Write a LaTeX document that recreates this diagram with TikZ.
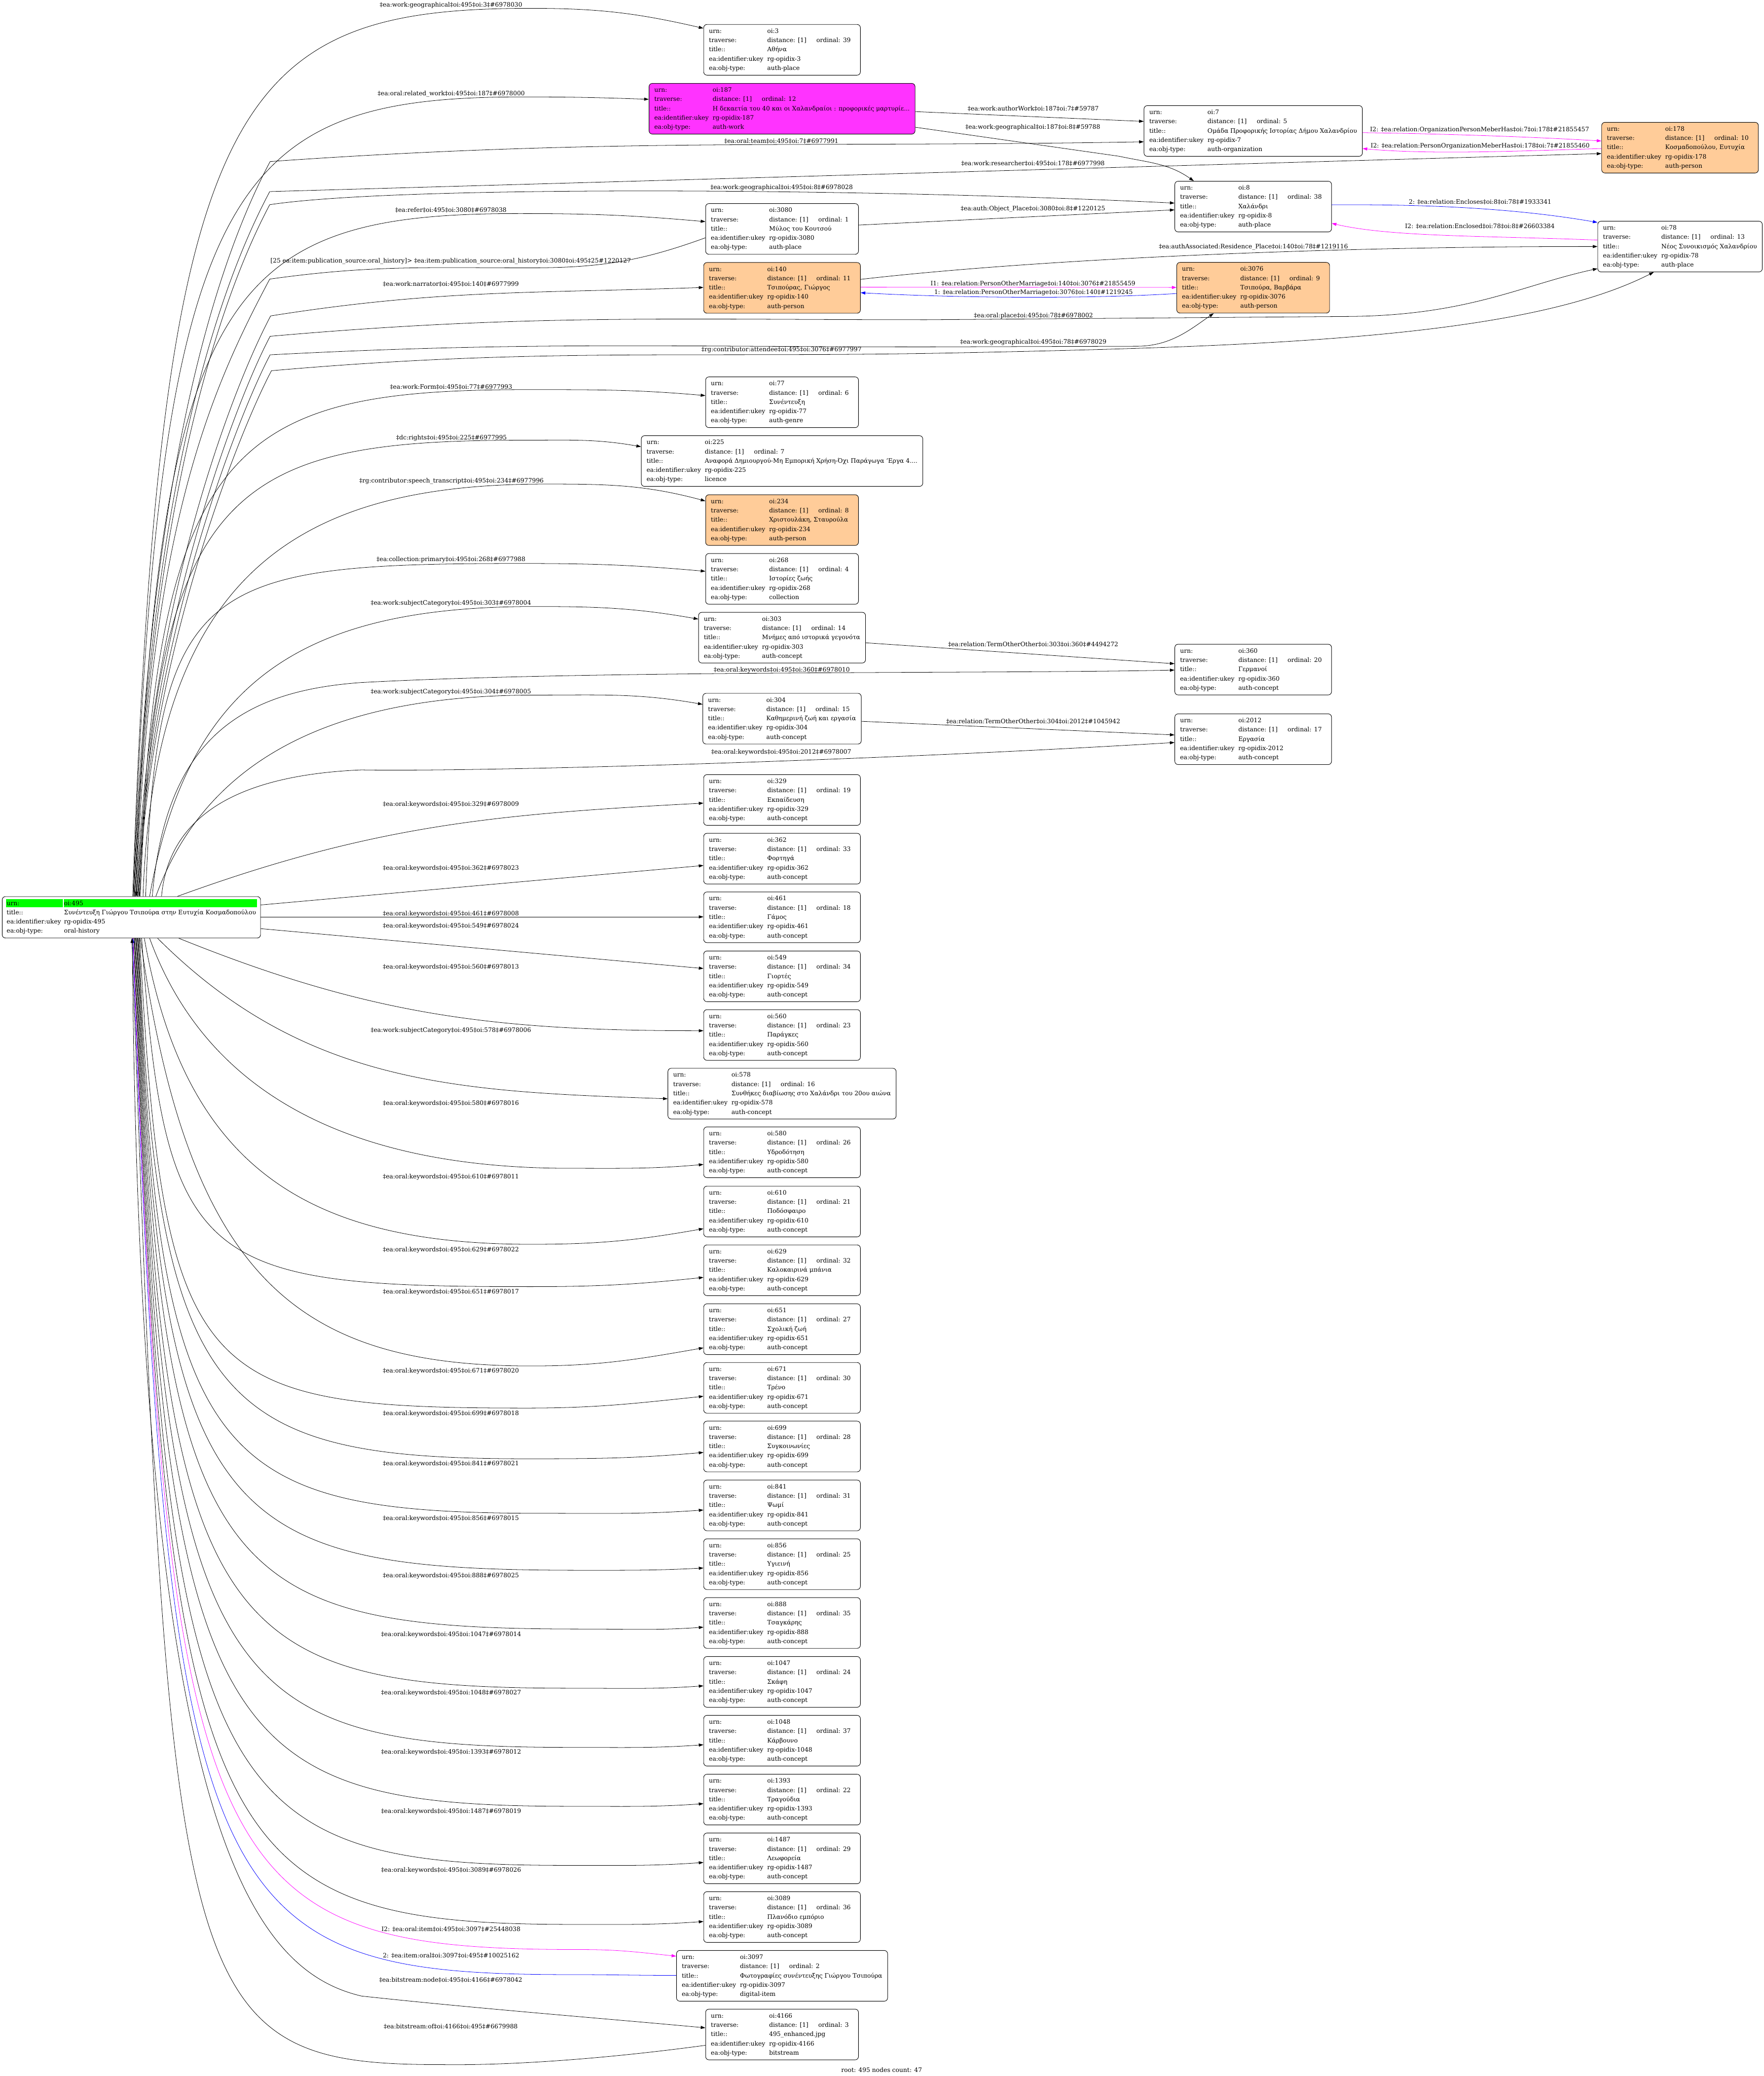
\documentclass[tikz,border=0pt]{standalone}
\usepackage{fontspec}
\setmainfont{DejaVu Serif}
\usetikzlibrary{arrows.meta,calc}
\definecolor{peach}{HTML}{FFCC99}
\definecolor{mag}{HTML}{FF00FF}
\definecolor{magfill}{HTML}{FF33FF}
\definecolor{grn}{HTML}{00FF00}
\definecolor{blu}{HTML}{0000FF}
\newcommand\nfont{\fontsize{4.6}{7}\selectfont}
\newcommand\recbox[4]{%
\begin{tabular}{@{}p{44pt}@{}l@{\hspace{7.5pt}}l@{\hspace{3.3pt}}}
urn: & \multicolumn{2}{@{}l@{}}{oi:#1}\\
traverse: & distance: [1] & ordinal: #2\\
title:: & \multicolumn{2}{@{}l@{}}{#3}\\
ea:identifier:ukey & \multicolumn{2}{@{}l@{}}{rg-opidix-#1}\\
ea:obj-type: & \multicolumn{2}{@{}l@{}}{#4}
\end{tabular}}
\newcommand\elab[4]{\node[lbl] (#1) at (#2,#3+1.7) {#4};}
\begin{document}
\begin{tikzpicture}[x=1pt,y=-1pt,
  conn/.style={line width=0.3pt,-{Triangle[length=3.5pt,width=2.3pt]}},
  obox/.style={draw,line width=0.35pt,rounded corners=2.5pt,fill=white,inner xsep=4pt,inner ysep=1.65pt,anchor=north,font=\nfont},
  lbl/.style={inner sep=0pt,anchor=base,font=\nfont}]
\fill[white] (0,0) rectangle (1332,1568);
\useasboundingbox (0,0) rectangle (1332,1568);

% ---------- root ----------
\fill[grn] (4.7,679.1) rectangle (47.5,685.3);
\fill[grn] (48.1,679.1) rectangle (194.1,685.3);
\node[obox,fill=none,inner xsep=3.4pt] (root) at (99.2,677) {\begin{tabular}{@{}p{43.3pt}@{}l@{}}
urn: & oi:495\\
title:: & Συνέντευξη Γιώργου Τσιπούρα στην Ευτυχία Κοσμαδοπούλου\\
ea:identifier:ukey & rg-opidix-495\\
ea:obj-type: & oral-history
\end{tabular}};

% ---------- column 1 ----------
\node[obox] (n3) at (590.6,18.3) {\recbox{3}{39}{Αθήνα}{auth-place}};
\node[obox,fill=magfill] (n187) at (590.6,62.8) {\recbox{187}{12}{Η δεκαετία του 40 και οι Χαλανδραίοι : προφορικές μαρτυρίε...}{auth-work}};
\node[obox] (n3080) at (590.6,153.6) {\recbox{3080}{1}{Μύλος του Κουτσού}{auth-place}};
\node[obox,fill=peach] (n140) at (590.6,198.1) {\recbox{140}{11}{Τσιπούρας, Γιώργος}{auth-person}};
\node[obox] (n77) at (590.6,284.5) {\recbox{77}{6}{Συνέντευξη}{auth-genre}};
\node[obox] (n225) at (590.6,328.9) {\recbox{225}{7}{Αναφορά Δημιουργού-Μη Εμπορική Χρήση-Όχι Παράγωγα 'Εργα 4....}{licence}};
\node[obox,fill=peach] (n234) at (590.6,373.5) {\recbox{234}{8}{Χριστουλάκη, Σταυρούλα}{auth-person}};
\node[obox] (n268) at (590.6,417.9) {\recbox{268}{4}{Ιστορίες ζωής}{collection}};
\node[obox] (n303) at (590.6,462.3) {\recbox{303}{14}{Μνήμες από ιστορικά γεγονότα}{auth-concept}};
\node[obox] (n304) at (590.6,523.5) {\recbox{304}{15}{Καθημερινή ζωή και εργασία}{auth-concept}};
\node[obox] (n329) at (590.6,584.9) {\recbox{329}{19}{Εκπαίδευση}{auth-concept}};
\node[obox] (n362) at (590.6,629.2) {\recbox{362}{33}{Φορτηγά}{auth-concept}};
\node[obox] (n461) at (590.6,673.5) {\recbox{461}{18}{Γάμος}{auth-concept}};
\node[obox] (n549) at (590.6,718.1) {\recbox{549}{34}{Γιορτές}{auth-concept}};
\node[obox] (n560) at (590.6,762.4) {\recbox{560}{23}{Παράγκες}{auth-concept}};
\node[obox] (n578) at (590.6,806.7) {\recbox{578}{16}{Συνθήκες διαβίωσης στο Χαλάνδρι του 20ου αιώνα}{auth-concept}};
\node[obox] (n580) at (590.6,851) {\recbox{580}{26}{Υδροδότηση}{auth-concept}};
\node[obox] (n610) at (590.6,895.7) {\recbox{610}{21}{Ποδόσφαιρο}{auth-concept}};
\node[obox] (n629) at (590.6,940.1) {\recbox{629}{32}{Καλοκαιρινά μπάνια}{auth-concept}};
\node[obox] (n651) at (590.6,984.6) {\recbox{651}{27}{Σχολική ζωή}{auth-concept}};
\node[obox] (n671) at (590.6,1028.9) {\recbox{671}{30}{Τρένο}{auth-concept}};
\node[obox] (n699) at (590.6,1073.2) {\recbox{699}{28}{Συγκοινωνίες}{auth-concept}};
\node[obox] (n841) at (590.6,1117.7) {\recbox{841}{31}{Ψωμί}{auth-concept}};
\node[obox] (n856) at (590.6,1162.1) {\recbox{856}{25}{Υγιεινή}{auth-concept}};
\node[obox] (n888) at (590.6,1206.5) {\recbox{888}{35}{Τσαγκάρης}{auth-concept}};
\node[obox] (n1047) at (590.6,1251) {\recbox{1047}{24}{Σκάφη}{auth-concept}};
\node[obox] (n1048) at (590.6,1295.4) {\recbox{1048}{37}{Κάρβουνο}{auth-concept}};
\node[obox] (n1393) at (590.6,1339.9) {\recbox{1393}{22}{Τραγούδια}{auth-concept}};
\node[obox] (n1487) at (590.6,1384.3) {\recbox{1487}{29}{Λεωφορεία}{auth-concept}};
\node[obox] (n3089) at (590.6,1428.6) {\recbox{3089}{36}{Πλανόδιο εμπόριο}{auth-concept}};
\node[obox] (n3097) at (590.6,1473) {\recbox{3097}{2}{Φωτογραφίες συνέντευξης Γιώργου Τσιπούρα}{digital-item}};
\node[obox] (n4166) at (590.6,1517.3) {\recbox{4166}{3}{495\_enhanced.jpg}{bitstream}};

% ---------- column 2 and 3 ----------
\node[obox] (n7) at (946.4,79.6) {\recbox{7}{5}{Ομάδα Προφορικής Ιστορίας Δήμου Χαλανδρίου}{auth-organization}};
\node[obox] (n8) at (946.4,136.7) {\recbox{8}{38}{Χαλάνδρι}{auth-place}};
\node[obox,fill=peach] (n3076) at (946.4,198) {\recbox{3076}{9}{Τσιπούρα, Βαρβάρα}{auth-person}};
\node[obox] (n360) at (946.4,486.4) {\recbox{360}{20}{Γερμανοί}{auth-concept}};
\node[obox] (n2012) at (946.4,539) {\recbox{2012}{17}{Εργασία}{auth-concept}};
\node[obox,fill=peach] (n178) at (1268.75,92.2) {\recbox{178}{10}{Κοσμαδοπούλου, Ευτυχία}{auth-person}};
\node[obox] (n78) at (1268.75,166.9) {\recbox{78}{13}{Νέος Συνοικισμός Χαλανδρίου}{auth-place}};

% ---------- edges from root upward ----------
\draw[conn] ([xshift=1pt]root.north) to[out=88,in=180,out distance=604pt,in distance=226pt] (401,6.3) to[out=0,in=167] ($(n3.north west)+(0,3.1)$);
\draw[conn] ([xshift=1.5pt]root.north) to[out=88,in=180,out distance=543pt,in distance=221pt] (395,73.2) to[out=0,in=178] ($(n187.north west)+(0,12.2)$);
\draw[conn] ([xshift=1.8pt]root.north) to[out=88,in=-118,out distance=300pt,in distance=100pt] (204,122) to[out=4,in=181] ($(n7.north west)+(0,27.5)$);
\draw[conn] ([xshift=2.3pt]root.north) to[out=88,in=-118,out distance=290pt,in distance=95pt] (203.7,144.7) -- ($(n178.north west)+(0,23.8)$);
\draw[conn] ([xshift=2.8pt]root.north) to[out=88,in=-118,out distance=280pt,in distance=90pt] (203.7,154.6) .. controls (300,140) and (650,142) .. ($(n8.north west)+(0,16.7)$);
\draw[conn] ([xshift=3.3pt]root.north) to[out=88,in=180,out distance=464pt,in distance=218pt] (392.7,161.3) to[out=0,in=175] ($(n3080.north west)+(0,13.8)$);
\draw[conn] ($(n3080.north west)+(0,26)$) to[out=-160,in=0] (400,202.3) to[out=180,in=8] (203.7,210.8) to[out=-118,in=88,out distance=95pt,in distance=280pt] ([xshift=3.8pt]root.north);
\draw[conn] ([xshift=4.3pt]root.north) to[out=88,in=-118,out distance=220pt,in distance=60pt] (204.4,238.6) to[out=9,in=182] ($(n140.north west)+(0,19)$);
\draw[conn] ([xshift=4.8pt]root.north) to[out=88,in=-118,out distance=200pt,in distance=55pt] (204,254) to[out=5,in=180] (700,241.5) -- (1020,239) .. controls (1110,238) and (1150,215) .. ($(n78.north west)+(0,36)$);
\draw[conn] ([xshift=5.3pt]root.north) to[out=88,in=-118,out distance=190pt,in distance=50pt] (204,268) to[out=3,in=180] (700,262) -- (860,261.5) .. controls (885,261) and (900,248) .. ($(n3076.south west)+(28.1,0)$);
\draw[conn] ([xshift=5.8pt]root.north) to[out=88,in=-118,out distance=180pt,in distance=50pt] (205,280) to[out=5,in=181] (708,266.8) .. controls (950,262) and (1150,256) .. ($(n78.south west)+(42.5,0)$);
\draw[conn] ([xshift=6.2pt]root.north) to[out=88,in=180,out distance=344pt,in distance=220pt] (398,294.3) to[out=0,in=175] ($(n77.north west)+(0,14.3)$);
\draw[conn] ([xshift=6.8pt]root.north) to[out=88,in=180,out distance=310pt,in distance=216pt] (394,332.5) to[out=0,in=170] ($(n225.north west)+(0,8.5)$);
\draw[conn] ([xshift=8.8pt]root.north) to[out=88,in=180,out distance=249pt,in distance=182pt] (412,365.6) to[out=0,in=165] ($(n234.north west)+(0,4.9)$);
\draw[conn] ([xshift=10.8pt]root.north) to[out=88,in=180,out distance=239pt,in distance=242pt] (395,425.6) to[out=0,in=175] ($(n268.north west)+(0,13.6)$);
\draw[conn] ([xshift=13.8pt]root.north) to[out=80,in=180,out distance=170pt,in distance=170pt] (404,458.1) to[out=0,in=170] ($(n303.north west)+(0,5.3)$);
\draw[conn] ([xshift=15.8pt]root.north) .. controls (125,560) and (180,522) .. (273,515.5) .. controls (450,506) and (750,509) .. ($(n360.north west)+(0,19.7)$);
\draw[conn] ([xshift=18.5pt]root.north) to[out=70,in=180] (404,525) to[out=0,in=170] ($(n304.north west)+(0,8.5)$);
\draw[conn] ([xshift=22.8pt]root.north) .. controls (128,610) and (190,585) .. (273,581.5) .. controls (360,583) and (650,575) .. ($(n2012.north west)+(0,21.8)$);
\draw[conn] ([xshift=34.8pt]root.north) to[out=20,in=183] ($(n329.north west)+(0,21.7)$);

% ---------- edges from root right side ----------
\draw[conn] ($(root.north east)+(0,6.5)$) -- ($(n362.north west)+(0,24.5)$);
\draw[conn] ($(root.north east)+(0,15.5)$) -- ($(n461.north west)+(0,19)$);
\draw[conn] ($(root.north east)+(0,24.4)$) -- ($(n549.north west)+(0,13.4)$);

% ---------- edges from root downward ----------
\draw[conn] ([xshift=35.8pt]root.south) to[out=-22,in=180] ($(n560.north west)+(0,16.1)$);
\draw[conn] ([xshift=19.8pt]root.south) to[out=-45,in=178] ($(n578.north west)+(0,23.2)$);
\draw[conn] ([xshift=13.8pt]root.south) to[out=-70,in=180] (430,882.4) to[out=0,in=185] ($(n580.north west)+(0,28.5)$);
\draw[conn] ([xshift=9.8pt]root.south) to[out=-80,in=180,out distance=175pt,in distance=170pt] (401,939.8) to[out=0,in=190] ($(n610.north west)+(0,32.3)$);
\draw[conn] ([xshift=7.8pt]root.south) to[out=-86,in=180,out distance=250pt,in distance=250pt] (401,971.8) to[out=0,in=186] ($(n629.north west)+(0,24.7)$);
\draw[conn] ([xshift=6.8pt]root.south) to[out=-82,in=180,out distance=259pt,in distance=177pt] (401,1031.7) to[out=0,in=190] ($(n651.north west)+(0,33.4)$);
\draw[conn] ([xshift=6.3pt]root.south) to[out=-87,in=180,out distance=337pt,in distance=249pt] (398,1063.5) to[out=0,in=186] ($(n671.north west)+(0,25.7)$);
\draw[conn] ([xshift=5.8pt]root.south) to[out=-88,in=180,out distance=354pt,in distance=234pt] (398,1101.8) to[out=0,in=185] ($(n699.north west)+(0,23.8)$);
\draw[conn] ([xshift=5.3pt]root.south) to[out=-88,in=180,out distance=400pt,in distance=252pt] (412,1143) to[out=0,in=184] ($(n841.north west)+(0,22.8)$);
\draw[conn] ([xshift=4.8pt]root.south) to[out=-88,in=180,out distance=444pt,in distance=279pt] (440,1186) to[out=0,in=183] ($(n856.north west)+(0,22.2)$);
\draw[conn] ([xshift=4.3pt]root.south) to[out=-88,in=180,out distance=486pt,in distance=279pt] (440,1230.4) to[out=0,in=184] ($(n888.north west)+(0,22.5)$);
\draw[conn] ([xshift=3.8pt]root.south) to[out=-88,in=180,out distance=527pt,in distance=275pt] (434,1275.1) to[out=0,in=184] ($(n1047.north west)+(0,22.3)$);
\draw[conn] ([xshift=3.3pt]root.south) to[out=-88,in=180,out distance=569pt,in distance=275pt] (434,1319.8) to[out=0,in=184] ($(n1048.north west)+(0,22.4)$);
\draw[conn] ([xshift=2.8pt]root.south) to[out=-88,in=180,out distance=610pt,in distance=276pt] (434,1364.3) to[out=0,in=184] ($(n1393.north west)+(0,22.4)$);
\draw[conn] ([xshift=2.3pt]root.south) to[out=-88,in=180,out distance=652pt,in distance=272pt] (429,1408.9) to[out=0,in=184] ($(n1487.north west)+(0,22.4)$);
\draw[conn] ([xshift=1.8pt]root.south) to[out=-88,in=180,out distance=693pt,in distance=276pt] (434,1453.5) to[out=0,in=184] ($(n3089.north west)+(0,22.7)$);
\draw[conn,mag] ([xshift=1.3pt]root.south) to[out=-88,in=180,out distance=718pt,in distance=282pt] (440,1472.5) to[out=0,in=174] ($(n3097.north west)+(0,4.5)$);
\draw[conn,blu] ($(n3097.north west)+(0,19)$) to[out=180,in=0] (430,1491.4) to[out=180,in=-88,out distance=275pt,in distance=735pt] ([xshift=1pt]root.south);
\draw[conn] ([xshift=0.7pt]root.south) .. controls (105,1380) and (190,1488) .. (273,1507.6) .. controls (360,1517) and (450,1524) .. ($(n4166.north west)+(0,14.3)$);
\draw[conn] ($(n4166.north west)+(0,27.5)$) .. controls (450,1556) and (380,1560) .. (334.4,1559.4) to[out=180,in=-88,out distance=200pt,in distance=808pt] ([xshift=0.4pt]root.south);

% ---------- edges between other nodes ----------
\draw[conn] ($(n187.north east)+(0,21.5)$) -- ($(n7.north west)+(0,12.1)$);
\draw[conn] ($(n187.north east)+(0,33.3)$) -- (845,118) to[out=-12,in=145] ($(n8.north west)+(14.5,0)$);
\draw[conn] ($(n3080.north east)+(0,16.4)$) -- ($(n8.north west)+(0,21.8)$);
\draw[conn] ($(n140.north east)+(0,12.9)$) .. controls (780,196) and (1000,186) .. ($(n78.north west)+(0,19.3)$);
\draw[conn,mag] ($(n140.north east)+(0,18.8)$) -- ($(n3076.north west)+(0,19.1)$);
\draw[conn,blu] ($(n3076.north west)+(0,23.7)$) .. controls (820,226) and (720,225) .. ($(n140.north east)+(0,23)$);
\draw[conn,mag] ($(n7.north east)+(0,20.6)$) .. controls (1090,101) and (1160,103.5) .. ($(n178.north west)+(0,14.3)$);
\draw[conn,mag] ($(n178.north west)+(0,20)$) .. controls (1150,114) and (1080,117) .. ($(n7.north east)+(0,32.6)$);
\draw[conn,blu] ($(n8.north east)+(0,18)$) .. controls (1100,154) and (1160,160) .. ($(n78.north west)+(0,1.1)$);
\draw[conn,mag] ($(n78.north west)+(0,14.4)$) .. controls (1120,178) and (1050,179) .. ($(n8.north east)+(0,32)$);
\draw[conn] ($(n303.north east)+(0,23.2)$) -- ($(n360.north west)+(0,14.9)$);
\draw[conn] ($(n304.north east)+(0,21.3)$) -- ($(n2012.north west)+(0,16.1)$);

% ---------- labels ----------
\elab{l1}{340.6}{3.5}{‡ea:work:geographical‡oi:495‡oi:3‡\#6978030}
\elab{l2}{340.8}{70.4}{‡ea:oral:related\_work‡oi:495‡oi:187‡\#6978000}
\elab{l3}{780.3}{82.1}{‡ea:work:authorWork‡oi:187‡oi:7‡\#59787}
\elab{l4}{780}{95.7}{‡ea:work:geographical‡oi:187‡oi:8‡\#59788}
\elab{l5}{590.1}{106.5}{‡ea:oral:team‡oi:495‡oi:7‡\#6977991}
\elab{l6}{1117.4}{97.8}{I2: ‡ea:relation:OrganizationPersonMeberHas‡oi:7‡oi:178‡\#21855457}
\elab{l7}{1117.8}{109.7}{I2: ‡ea:relation:PersonOrganizationMeberHas‡oi:178‡oi:7‡\#21855460}
\elab{l8}{780.1}{123.4}{‡ea:work:researcher‡oi:495‡oi:178‡\#6977998}
\elab{l9}{590.3}{141.2}{‡ea:work:geographical‡oi:495‡oi:8‡\#6978028}
\elab{l10}{1117.8}{152.4}{2: ‡ea:relation:Encloses‡oi:8‡oi:78‡\#1933341}
\elab{l11}{780.1}{157.3}{‡ea:auth:Object\_Place‡oi:3080‡oi:8‡\#1220125}
\elab{l12}{340.5}{158.5}{‡ea:refer‡oi:495‡oi:3080‡\#6978038}
\elab{l13}{1117.6}{170.6}{I2: ‡ea:relation:Enclosed‡oi:78‡oi:8‡\#26603384}
\elab{l14}{946.6}{186.2}{‡ea:authAssociated:Residence\_Place‡oi:140‡oi:78‡\#1219116}
\elab{l15}{340.4}{196.6}{[25 ea:item:publication\_source:oral\_history]> ‡ea:item:publication\_source:oral\_history‡oi:3080‡oi:495‡25\#1220127}
\elab{l16}{340.5}{214.5}{‡ea:work:narrator‡oi:495‡oi:140‡\#6977999}
\elab{l17}{780.1}{214.1}{I1: ‡ea:relation:PersonOtherMarriage‡oi:140‡oi:3076‡\#21855459}
\elab{l18}{780.5}{220.4}{1: ‡ea:relation:PersonOtherMarriage‡oi:3076‡oi:140‡\#1219245}
\elab{l19}{780.5}{238}{‡ea:oral:place‡oi:495‡oi:78‡\#6978002}
\elab{l20}{780.3}{258}{‡ea:work:geographical‡oi:495‡oi:78‡\#6978029}
\elab{l21}{590.2}{263.8}{‡rg:contributor:attendee‡oi:495‡oi:3076‡\#6977997}
\elab{l22}{340.7}{292.2}{‡ea:work:Form‡oi:495‡oi:77‡\#6977993}
\elab{l23}{341}{330.3}{‡dc:rights‡oi:495‡oi:225‡\#6977995}
\elab{l24}{341}{362.8}{‡rg:contributor:speech\_transcript‡oi:495‡oi:234‡\#6977996}
\elab{l25}{340.6}{422.4}{‡ea:collection:primary‡oi:495‡oi:268‡\#6977988}
\elab{l26}{340.5}{455.1}{‡ea:work:subjectCategory‡oi:495‡oi:303‡\#6978004}
\elab{l27}{780.3}{486.5}{‡ea:relation:TermOtherOther‡oi:303‡oi:360‡\#4494272}
\elab{l28}{590.4}{505.8}{‡ea:oral:keywords‡oi:495‡oi:360‡\#6978010}
\elab{l29}{340.5}{522.3}{‡ea:work:subjectCategory‡oi:495‡oi:304‡\#6978005}
\elab{l30}{780.3}{544.9}{‡ea:relation:TermOtherOther‡oi:304‡oi:2012‡\#1045942}
\elab{l31}{590}{567.7}{‡ea:oral:keywords‡oi:495‡oi:2012‡\#6978007}
\elab{l32}{340.5}{607.3}{‡ea:oral:keywords‡oi:495‡oi:329‡\#6978009}
\elab{l33}{340.5}{655.5}{‡ea:oral:keywords‡oi:495‡oi:362‡\#6978023}
\elab{l34}{340.5}{689.7}{‡ea:oral:keywords‡oi:495‡oi:461‡\#6978008}
\elab{l35}{340.5}{699}{‡ea:oral:keywords‡oi:495‡oi:549‡\#6978024}
\elab{l36}{340.5}{730.2}{‡ea:oral:keywords‡oi:495‡oi:560‡\#6978013}
\elab{l37}{340.5}{777.8}{‡ea:work:subjectCategory‡oi:495‡oi:578‡\#6978006}
\elab{l38}{340.5}{833}{‡ea:oral:keywords‡oi:495‡oi:580‡\#6978016}
\elab{l39}{340.5}{888.7}{‡ea:oral:keywords‡oi:495‡oi:610‡\#6978011}
\elab{l40}{340.5}{943.5}{‡ea:oral:keywords‡oi:495‡oi:629‡\#6978022}
\elab{l41}{340.5}{975.4}{‡ea:oral:keywords‡oi:495‡oi:651‡\#6978017}
\elab{l42}{340.5}{1035}{‡ea:oral:keywords‡oi:495‡oi:671‡\#6978020}
\elab{l43}{340.5}{1067.1}{‡ea:oral:keywords‡oi:495‡oi:699‡\#6978018}
\elab{l44}{340.5}{1105}{‡ea:oral:keywords‡oi:495‡oi:841‡\#6978021}
\elab{l45}{340.5}{1146.4}{‡ea:oral:keywords‡oi:495‡oi:856‡\#6978015}
\elab{l46}{340.5}{1189.8}{‡ea:oral:keywords‡oi:495‡oi:888‡\#6978025}
\elab{l47}{340.7}{1234.1}{‡ea:oral:keywords‡oi:495‡oi:1047‡\#6978014}
\elab{l48}{340.7}{1278.4}{‡ea:oral:keywords‡oi:495‡oi:1048‡\#6978027}
\elab{l49}{340.7}{1323}{‡ea:oral:keywords‡oi:495‡oi:1393‡\#6978012}
\elab{l50}{340.7}{1367.9}{‡ea:oral:keywords‡oi:495‡oi:1487‡\#6978019}
\elab{l51}{340.7}{1412.2}{‡ea:oral:keywords‡oi:495‡oi:3089‡\#6978026}
\elab{l52}{340.6}{1456.8}{I2: ‡ea:oral:item‡oi:495‡oi:3097‡\#25448038}
\elab{l53}{340.7}{1476.9}{2: ‡ea:item:oral‡oi:3097‡oi:495‡\#10025162}
\elab{l54}{340.4}{1495.3}{‡ea:bitstream:node‡oi:495‡oi:4166‡\#6978042}
\elab{l55}{340.4}{1530.4}{‡ea:bitstream:of‡oi:4166‡oi:495‡\#6679988}
\elab{l56}{665.8}{1563.3}{root: 495 nodes count: 47}
\end{tikzpicture}
\end{document}
